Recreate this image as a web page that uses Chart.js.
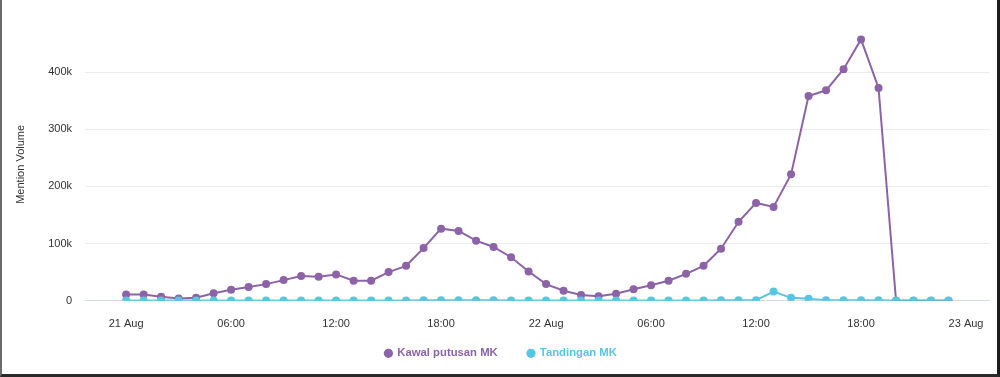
<!DOCTYPE html>
<html>
<head>
<meta charset="utf-8">
<script src="https://cdn.jsdelivr.net/npm/chart.js@4.4.1/dist/chart.umd.min.js"></script>
<style>
  html, body { margin: 0; padding: 0; background: #fff; }
  #wrap { position: relative; width: 1000px; height: 377px; }
  #wrap canvas { position: absolute; left: 0; top: 0; }
  #frame {
    position: absolute; left: 0; top: 0; width: 1000px; height: 377px; box-sizing: border-box;
    border-left: 2px solid #6b6b6b; border-right: 3px solid #1c1c1c; border-bottom: 3px solid #2a2a2a;
    pointer-events: none;
  }
</style>
</head>
<body>
<div id="wrap">
  <canvas id="mentionChart" width="1000" height="377"></canvas>
  <div id="frame"></div>
</div>
<script>
// hourly mention counts, 21 Aug 00:00 .. 22 Aug 23:00
const kawalPutusan = [
  11000, 11000, 7000, 4000, 5000, 13000, 19000, 24000, 29000, 36000, 43000, 42000,
  46000, 35000, 35000, 50000, 61000, 92000, 126000, 122000, 105000, 94000, 76000, 51000,
  29000, 17500, 10000, 8000, 12000, 20000, 27000, 35000, 47000, 61000, 91000, 138000,
  171000, 164000, 221000, 358000, 368000, 405000, 457000, 372000, 0, 0, 0, 0
];
const tandingan = [
  300, 300, 200, 200, 200, 300, 300, 400, 400, 400, 500, 500,
  500, 400, 400, 500, 500, 600, 700, 700, 600, 600, 500, 400,
  300, 300, 200, 200, 200, 300, 300, 400, 400, 500, 600, 700,
  1000, 16000, 5000, 3500, 1000, 800, 700, 600, 500, 400, 300, 300
];

const xTickHours = [0, 6, 12, 18, 24, 30, 36, 42, 48];
const xTickLabels = ['21 Aug', '06:00', '12:00', '18:00', '22 Aug', '06:00', '12:00', '18:00', '23 Aug'];
const yTicks = [0, 100000, 200000, 300000, 400000];

const purple = '#8d63a8';
const cyan = '#56c6e5';
const textColor = '#333333';

Chart.defaults.font.family = '"Liberation Sans", Arial, sans-serif';

// pull the legend up closer to the axis labels, and a bit to the right
const legendNudge = {
    id: 'legendNudge',
    afterLayout(chart) {
        if (!chart.legend) return;
        chart.legend.top -= 15;
        chart.legend.bottom -= 15;
        chart.legend.left += 6;
        chart.legend.right += 6;
    }
};

const ctx = document.getElementById('mentionChart');
new Chart(ctx, {
    type: 'line',
    data: {
        datasets: [
            {
                label: 'Kawal putusan MK',
                data: kawalPutusan.map((v, i) => ({ x: i, y: v })),
                borderColor: purple,
                backgroundColor: purple,
                borderWidth: 2,
                pointRadius: 4,
                pointBorderWidth: 0,
                pointBackgroundColor: purple,
                tension: 0,
                order: 1
            },
            {
                label: 'Tandingan MK',
                data: tandingan.map((v, i) => ({ x: i, y: v })),
                borderColor: cyan,
                backgroundColor: cyan,
                borderWidth: 2,
                pointRadius: 4,
                pointBorderWidth: 0,
                pointBackgroundColor: cyan,
                tension: 0,
                order: 0
            }
        ]
    },
    plugins: [legendNudge],
    options: {
        responsive: false,
        animation: false,
        layout: { padding: { left: 0, right: 10, top: 28, bottom: -7 } },
        plugins: {
            tooltip: { enabled: false },
            legend: {
                position: 'bottom',
                labels: {
                    usePointStyle: true,
                    pointStyle: 'circle',
                    boxWidth: 6.5,
                    boxHeight: 6.5,
                    padding: 30,
                    font: { size: 11.3, weight: 'bold' },
                    sort: (a, b) => a.datasetIndex - b.datasetIndex,
                    generateLabels: chart => {
                        const items = Chart.defaults.plugins.legend.labels.generateLabels(chart);
                        items.forEach(it => {
                            const ds = chart.data.datasets[it.datasetIndex];
                            it.fontColor = ds.borderColor;
                            it.lineWidth = 0;
                        });
                        return items;
                    }
                }
            }
        },
        scales: {
            x: {
                type: 'linear',
                min: -2.35,
                max: 49.37,
                grid: { display: false },
                border: { display: false },
                afterBuildTicks: scale => { scale.ticks = xTickHours.map(v => ({ value: v })); },
                afterFit: scale => { scale.height = 32; },
                ticks: {
                    color: textColor,
                    font: { size: 11 },
                    padding: 9,
                    maxRotation: 0,
                    autoSkip: false,
                    callback: v => xTickLabels[xTickHours.indexOf(v)]
                }
            },
            y: {
                min: 0,
                max: 477000,
                afterBuildTicks: scale => { scale.ticks = yTicks.map(v => ({ value: v })); },
                afterFit: scale => { scale.width = 85; },
                grid: {
                    drawTicks: false,
                    color: c => c.tick && c.tick.value === 0 ? '#d6dbe6' : '#ececec',
                    lineWidth: 1
                },
                border: { display: false },
                title: {
                    display: true,
                    text: 'Mention Volume',
                    color: textColor,
                    font: { size: 11 },
                    padding: { top: 14, bottom: 0 }
                },
                ticks: {
                    color: textColor,
                    font: { size: 11 },
                    padding: 13,
                    callback: v => v === 0 ? '0' : (v / 1000) + 'k'
                }
            }
        }
    }
});
</script>
</body>
</html>
